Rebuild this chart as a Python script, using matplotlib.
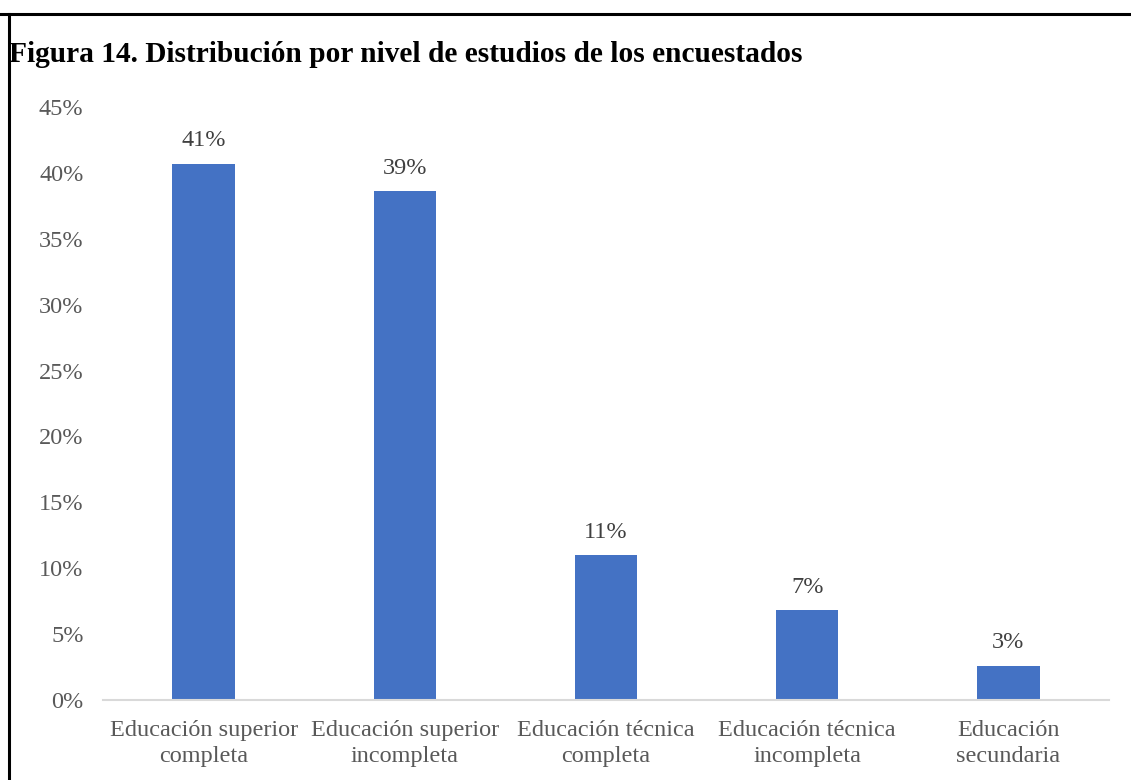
import matplotlib.pyplot as plt
from matplotlib.lines import Line2D
from matplotlib.ticker import FuncFormatter

categories = ['Educación superior\ncompleta', 'Educación superior\nincompleta',
              'Educación técnica\ncompleta', 'Educación técnica\nincompleta',
              'Educación\nsecundaria']
values = [40.7, 38.6, 11.0, 6.8, 2.6]
yticks = [0, 5, 10, 15, 20, 25, 30, 35, 40, 45]

plt.rcParams['font.family'] = ['Liberation Serif', 'DejaVu Serif']

W, H = 1131, 780
fig = plt.figure(figsize=(W / 100, H / 100), dpi=100)
ax = fig.add_axes([103 / W, 1 - 700 / H, (1109 - 103) / W, (700 - 107) / H])

x = range(len(categories))
ax.bar(x, values, width=0.31, color='#4472C4', zorder=2)
for xi, v in zip(x, values):
    ax.text(xi, v + 0.95, f'{v:.0f}%', ha='center', va='bottom',
            fontsize=17.5, color='#404040')

ax.set_xlim(-0.5, len(categories) - 0.5)
ax.set_ylim(0, 45)
ax.set_yticks(yticks)
ax.yaxis.set_major_formatter(FuncFormatter(lambda v, _: f'{v:.0f}%'))
ax.set_xticks(list(x))
ax.set_xticklabels(categories, linespacing=1.32)

for side in ['top', 'right', 'left']:
    ax.spines[side].set_visible(False)
ax.spines['bottom'].set_color('#D9D9D9')
ax.spines['bottom'].set_linewidth(1.5)
ax.tick_params(axis='both', length=0, labelsize=17.5, labelcolor='#595959')
ax.tick_params(axis='y', pad=14)
ax.tick_params(axis='x', pad=14.5)

# frame lines around the figure block
fig.add_artist(Line2D([0, 1], [1 - 14 / H, 1 - 14 / H], color='black', lw=2.2))
fig.add_artist(Line2D([9 / W, 9 / W], [0, 1 - 14 / H], color='black', lw=2.2))

fig.text(9 / W, 1 - 55 / H, 'Figura 14. Distribución por nivel de estudios de los encuestados',
         ha='left', va='center', fontsize=21.2, fontweight='bold', color='black')

fig.savefig('out.png', dpi=100)
